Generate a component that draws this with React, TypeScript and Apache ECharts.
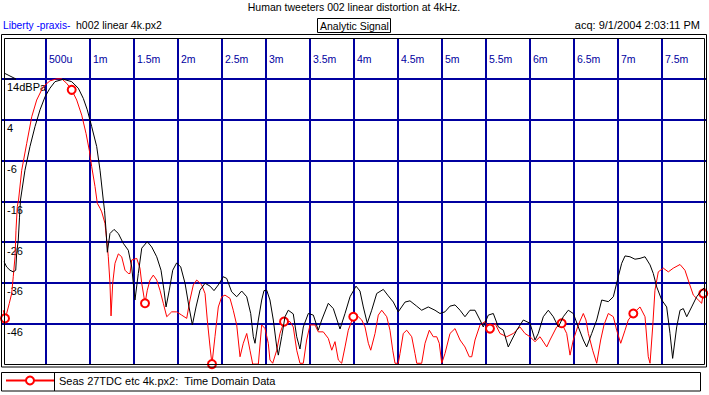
import { useEffect, useRef } from 'react';
import * as echarts from 'echarts';

const titleText = 'Human tweeters 002 linear distortion at 4kHz.';
const brandText = 'Liberty -praxis-';
const fileText = 'h002 linear 4k.px2';
const modeText = 'Analytic Signal';
const acqText = 'acq: 9/1/2004 2:03:11 PM';
const redName = 'Seas 27TDC etc 4k.px2:  Time Domain Data';
const blackName = 'h002 linear 4k.px2';

const xTicks = [0.5, 1, 1.5, 2, 2.5, 3, 3.5, 4, 4.5, 5, 5.5, 6, 6.5, 7, 7.5];
const xTickLabels = ['500u', '1m', '1.5m', '2m', '2.5m', '3m', '3.5m', '4m', '4.5m', '5m', '5.5m', '6m', '6.5m', '7m', '7.5m'];
const yTicks = [14, 4, -6, -16, -26, -36, -46];
const yTickLabels = ['14dBPa', '4', '-6', '-16', '-26', '-36', '-46'];

// time in ms, level in dB
const blackT = [0.023, 0.053, 0.091, 0.128, 0.156, 0.167, 0.185, 0.199, 0.21, 0.261, 0.318, 0.375, 0.432, 0.489, 0.545, 0.602, 0.697, 0.792, 0.867, 0.924, 0.969, 1.019, 1.076, 1.114, 1.151, 1.165, 1.182, 1.197, 1.227, 1.273, 1.322, 1.378, 1.435, 1.474, 1.511, 1.549, 1.588, 1.651, 1.701, 1.758, 1.807, 1.841, 1.864, 1.901, 1.94, 1.985, 2.031, 2.08, 2.125, 2.163, 2.205, 2.25, 2.307, 2.364, 2.409, 2.458, 2.515, 2.553, 2.61, 2.667, 2.724, 2.781, 2.826, 2.856, 2.875, 2.913, 2.951, 2.977, 3.008, 3.045, 3.083, 3.122, 3.14, 3.178, 3.216, 3.253, 3.31, 3.349, 3.386, 3.424, 3.481, 3.538, 3.594, 3.633, 3.708, 3.765, 3.841, 3.898, 3.955, 4.023, 4.068, 4.106, 4.151, 4.201, 4.258, 4.333, 4.39, 4.447, 4.503, 4.58, 4.636, 4.712, 4.769, 4.844, 4.92, 4.977, 5.034, 5.091, 5.148, 5.205, 5.261, 5.318, 5.375, 5.432, 5.469, 5.526, 5.583, 5.64, 5.697, 5.753, 5.792, 5.849, 5.924, 6.0, 6.057, 6.094, 6.151, 6.208, 6.265, 6.322, 6.378, 6.435, 6.492, 6.549, 6.606, 6.644, 6.701, 6.758, 6.815, 6.89, 6.947, 7.003, 7.042, 7.08, 7.136, 7.193, 7.25, 7.307, 7.364, 7.401, 7.44, 7.497, 7.553, 7.591, 7.621, 7.667, 7.705, 7.742, 7.781, 7.837, 7.894, 7.951, 7.989];
const blackDb = [-30.8, -32.1, -32.9, -33.3, -32.9, -28.7, -25.5, -19.9, -15.7, -8.4, -2.6, 2.3, 6.4, 9.6, 11.7, 13.3, 13.9, 13.3, 11.7, 9.2, 6.4, 2.3, -2.6, -8.4, -15.7, -18.2, -23.1, -28.5, -23.9, -22.9, -23.9, -26.3, -28.0, -32.1, -40.2, -33.7, -27.5, -25.9, -27.2, -29.6, -32.9, -37.8, -41.9, -37.8, -32.9, -31.1, -32.1, -36.1, -41.9, -46.3, -41.9, -37.8, -36.1, -36.8, -37.9, -36.5, -34.5, -34.9, -38.2, -39.4, -38.0, -39.4, -43.5, -49.2, -50.8, -45.1, -40.2, -37.9, -37.8, -40.2, -45.1, -51.7, -53.7, -49.2, -44.3, -42.7, -43.6, -49.2, -52.2, -46.8, -43.5, -43.9, -47.6, -45.1, -41.0, -42.3, -47.3, -43.5, -39.4, -36.8, -38.0, -41.9, -45.9, -42.7, -38.6, -37.6, -39.2, -40.7, -43.1, -40.7, -40.4, -41.7, -42.7, -41.9, -42.7, -43.5, -43.1, -41.7, -41.4, -42.7, -44.3, -42.7, -42.7, -45.1, -46.8, -43.9, -43.5, -46.8, -47.6, -51.7, -50.0, -47.6, -45.1, -45.9, -50.0, -48.4, -44.3, -42.7, -44.3, -46.8, -44.3, -42.7, -43.5, -46.8, -50.0, -51.7, -48.4, -45.1, -40.2, -40.6, -39.4, -34.5, -31.2, -29.4, -29.6, -30.2, -30.0, -29.6, -31.6, -33.7, -37.0, -40.2, -41.9, -48.4, -54.5, -46.8, -42.7, -42.3, -44.3, -41.9, -39.4, -37.8, -37.0];

const redT = [0.015, 0.034, 0.053, 0.083, 0.11, 0.128, 0.148, 0.159, 0.174, 0.188, 0.224, 0.281, 0.338, 0.394, 0.469, 0.545, 0.622, 0.678, 0.735, 0.792, 0.849, 0.906, 0.955, 0.992, 1.019, 1.057, 1.083, 1.114, 1.133, 1.17, 1.19, 1.208, 1.227, 1.239, 1.258, 1.284, 1.322, 1.36, 1.398, 1.435, 1.455, 1.474, 1.531, 1.568, 1.588, 1.625, 1.651, 1.682, 1.719, 1.758, 1.795, 1.833, 1.872, 1.928, 1.985, 2.042, 2.099, 2.136, 2.174, 2.213, 2.269, 2.307, 2.333, 2.364, 2.386, 2.42, 2.458, 2.497, 2.534, 2.591, 2.628, 2.667, 2.705, 2.742, 2.781, 2.818, 2.849, 2.913, 2.951, 2.989, 3.026, 3.045, 3.076, 3.122, 3.159, 3.205, 3.273, 3.31, 3.349, 3.386, 3.424, 3.462, 3.5, 3.557, 3.594, 3.651, 3.708, 3.747, 3.784, 3.822, 3.86, 3.898, 3.935, 3.992, 4.049, 4.088, 4.125, 4.163, 4.19, 4.239, 4.276, 4.315, 4.372, 4.409, 4.44, 4.466, 4.503, 4.523, 4.56, 4.599, 4.656, 4.693, 4.713, 4.769, 4.807, 4.856, 4.901, 4.94, 4.969, 4.997, 5.034, 5.091, 5.148, 5.205, 5.261, 5.31, 5.338, 5.375, 5.432, 5.489, 5.545, 5.602, 5.659, 5.735, 5.81, 5.886, 5.943, 6.0, 6.057, 6.114, 6.19, 6.227, 6.303, 6.36, 6.417, 6.455, 6.492, 6.549, 6.606, 6.636, 6.663, 6.712, 6.758, 6.803, 6.841, 6.89, 6.947, 6.985, 7.031, 7.08, 7.117, 7.174, 7.25, 7.307, 7.344, 7.364, 7.394, 7.42, 7.458, 7.515, 7.572, 7.628, 7.705, 7.761, 7.81, 7.856, 7.913, 7.951, 7.969, 7.989];
const redDb = [-42.7, -44.7, -43.5, -41.0, -38.6, -34.5, -29.6, -23.1, -17.3, -15.7, -8.4, -1.8, 4.7, 8.8, 12.1, 13.5, 14.0, 14.0, 12.9, 11.3, 8.8, 5.1, 0.6, -3.5, -7.5, -12.4, -16.5, -17.7, -18.6, -21.4, -25.5, -29.6, -36.1, -44.1, -36.1, -31.2, -28.9, -29.6, -32.9, -33.7, -33.7, -30.4, -30.0, -32.4, -36.1, -41.0, -37.8, -35.3, -34.1, -35.3, -37.8, -41.0, -44.3, -43.1, -43.1, -43.9, -44.7, -40.2, -36.5, -35.3, -36.5, -38.6, -45.1, -51.7, -55.9, -49.2, -41.9, -39.4, -39.0, -39.8, -42.7, -46.3, -54.1, -50.8, -48.4, -52.5, -55.9, -55.9, -46.3, -47.2, -50.8, -54.9, -55.7, -52.5, -48.4, -45.5, -45.5, -46.8, -52.5, -55.7, -55.7, -50.0, -46.3, -46.3, -48.0, -48.0, -49.6, -52.5, -50.4, -54.9, -55.7, -51.7, -47.6, -44.3, -44.3, -45.1, -46.8, -50.8, -52.5, -48.4, -43.9, -42.7, -44.3, -47.6, -52.5, -55.7, -55.7, -53.3, -48.4, -47.6, -49.2, -53.3, -55.7, -55.7, -50.8, -47.6, -49.2, -49.2, -50.8, -55.7, -53.3, -48.4, -47.2, -50.0, -51.7, -54.1, -54.1, -50.0, -46.3, -45.5, -47.2, -45.9, -48.4, -49.2, -48.4, -46.8, -48.4, -49.2, -50.4, -49.2, -51.7, -50.0, -46.8, -45.9, -48.4, -53.7, -50.0, -46.3, -43.5, -45.1, -48.4, -52.5, -55.7, -50.0, -46.3, -43.5, -44.3, -47.6, -50.8, -47.6, -45.1, -43.5, -41.9, -44.3, -54.1, -55.7, -46.8, -37.8, -33.3, -32.4, -33.3, -32.4, -31.5, -32.9, -36.1, -39.0, -40.2, -41.0, -38.6, -37.3];

// times at which the red trace carries its circle marker
const markerTimes = [0.034, 0.792, 1.625, 2.386, 3.205, 3.992, 5.545, 6.36, 7.174, 7.969];

const FONT = '"Liberation Sans", Arial, sans-serif';
const GRID = '#0000a0';
const FS = 10.5;

export default function App() {
  const ref = useRef<HTMLDivElement>(null);
  useEffect(() => {
    if (!ref.current) return;
    const chart = echarts.init(ref.current, undefined, { renderer: 'svg' });

    const markerIdx = new Set<number>();
    markerTimes.forEach((mt) => {
      let best = 0;
      redT.forEach((t, i) => {
        if (Math.abs(t - mt) < Math.abs(redT[best] - mt)) best = i;
      });
      markerIdx.add(best);
    });

    const redData = redT.map((t, i) => ({
      value: [t, redDb[i]],
      symbol: markerIdx.has(i) ? 'emptyCircle' : 'none',
      symbolSize: 8,
    }));
    const blackData = blackT.map((t, i) => [t, blackDb[i]]);

    const textStyle = { fontFamily: FONT, fontSize: FS, fill: '#000' };

    chart.setOption({
      animation: false,
      backgroundColor: '#fff',
      textStyle: { fontFamily: FONT },
      grid: { left: 2, right: 3, top: 38, bottom: 30.5, show: false },
      xAxis: {
        type: 'value',
        position: 'top',
        min: 0,
        max: 8,
        interval: 0.5,
        axisLine: { show: false },
        axisTick: { show: false },
        splitLine: { show: true, showMinLine: false, showMaxLine: false, lineStyle: { color: GRID, width: 2 } },
        axisLabel: {
          inside: true,
          margin: 21,
          align: 'left',
          verticalAlign: 'middle',
          padding: [0, 0, 0, 3],
          color: GRID,
          fontSize: FS,
          fontFamily: FONT,
          showMinLabel: false,
          showMaxLabel: false,
          formatter: (v: number) => {
            const i = xTicks.findIndex((t) => Math.abs(t - v) < 1e-6);
            return i >= 0 ? xTickLabels[i] : '';
          },
        },
      },
      yAxis: {
        type: 'value',
        min: -56,
        max: 24,
        interval: 10,
        axisLine: { show: false },
        axisTick: { show: false },
        splitLine: { show: true, showMinLine: false, showMaxLine: false, lineStyle: { color: GRID, width: 2 } },
        axisLabel: {
          inside: true,
          margin: 5,
          align: 'left',
          verticalAlign: 'top',
          padding: [3, 0, 0, 0],
          color: '#000',
          fontSize: 11,
          fontFamily: FONT,
          formatter: (v: number) => {
            const i = yTicks.findIndex((t) => Math.abs(t - v) < 1e-6);
            return i >= 0 ? yTickLabels[i] : '';
          },
        },
      },
      legend: {
        data: [redName],
        left: 5,
        top: 375,
        padding: 0,
        itemWidth: 48,
        itemHeight: 10,
        textStyle: { fontSize: 11, fontFamily: FONT, color: '#000' },
      },
      series: [
        {
          name: redName,
          type: 'line',
          data: redData,
          symbol: 'emptyCircle',
          symbolSize: 8,
          showSymbol: true,
          showAllSymbol: true,
          lineStyle: { color: '#ff0000', width: 1 },
          itemStyle: { color: '#ff0000', borderColor: '#ff0000', borderWidth: 1 },
          z: 3,
        },
        {
          name: blackName,
          type: 'line',
          data: blackData,
          symbol: 'none',
          lineStyle: { color: '#000', width: 1 },
          itemStyle: { color: '#000' },
          z: 4,
        },
      ],
      graphic: [
        { type: 'text', x: 354, y: 7, style: { ...textStyle, text: titleText, textAlign: 'center', textVerticalAlign: 'middle' } },
        { type: 'text', x: 3, y: 25, style: { ...textStyle, fontSize: 10.2, fill: '#0000ff', text: brandText, textVerticalAlign: 'middle' } },
        { type: 'text', x: 76, y: 25, style: { ...textStyle, text: fileText, textVerticalAlign: 'middle' } },
        { type: 'rect', shape: { x: 317.5, y: 18.5, width: 73, height: 14 }, style: { fill: 'none', stroke: '#000', lineWidth: 1 } },
        { type: 'text', x: 320, y: 25.5, style: { ...textStyle, text: modeText, textVerticalAlign: 'middle' } },
        { type: 'text', x: 700, y: 25, style: { ...textStyle, fontSize: 11, text: acqText, textAlign: 'right', textVerticalAlign: 'middle' } },
        { type: 'rect', z: 10, shape: { x: 1.5, y: 34.5, width: 705, height: 332.5 }, style: { fill: 'none', stroke: '#000', lineWidth: 1 } },
        { type: 'rect', z: 10, shape: { x: 4.5, y: 38.5, width: 700, height: 326 }, style: { fill: 'none', stroke: '#000', lineWidth: 1 } },
        { type: 'polyline', z: 10, shape: { points: [[4, 73], [16, 79], [4, 79]] }, style: { fill: 'none', stroke: '#000', lineWidth: 1 } },
        { type: 'rect', shape: { x: 1.5, y: 372.5, width: 699, height: 18.5 }, style: { fill: 'none', stroke: '#000', lineWidth: 1 } },
        { type: 'line', shape: { x1: 54.5, y1: 372.5, x2: 54.5, y2: 391 }, style: { stroke: '#000', lineWidth: 1 } },
      ],
    });
    return () => chart.dispose();
  }, []);
  return <div ref={ref} style={{ position: 'fixed', left: 0, top: 0, width: 709, height: 395, background: '#fff' }} />;
}
